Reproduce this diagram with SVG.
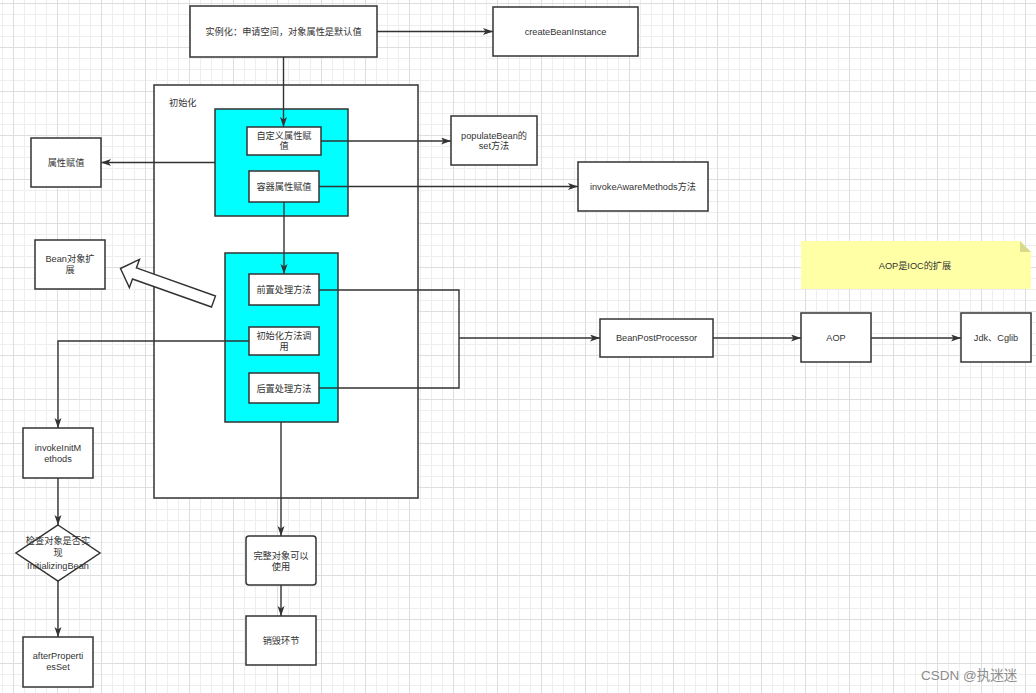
<svg xmlns="http://www.w3.org/2000/svg" width="1036" height="693" viewBox="0 0 1036 693">
<style>
.box{fill:#ffffff;stroke:#333333;stroke-width:1.5}
.cyan{fill:#00ffff;stroke:#333333;stroke-width:1.5}
.line{fill:none;stroke:#333333;stroke-width:1.4}
.t{font-family:"Liberation Sans","Noto Sans CJK SC",sans-serif;font-size:9.2px;fill:#333333;text-anchor:middle}
.tl{font-family:"Liberation Sans","Noto Sans CJK SC",sans-serif;font-size:9.2px;fill:#333333}
.wm{font-family:"Liberation Sans","Noto Sans CJK SC",sans-serif;font-size:13.5px;fill:#8c8c8c}
</style>
<defs>
<pattern id="grid" patternUnits="userSpaceOnUse" x="2" y="3" width="44" height="44">
<path d="M0.5,0V44M22.5,0V44M33.5,0V44M0,11.5H44M0,22.5H44M0,33.5H44" stroke="#eeeeee" stroke-width="1" fill="none"/>
<path d="M11.5,0V44M0,0.5H44" stroke="#dedede" stroke-width="1" fill="none"/>
</pattern>
<marker id="arr" markerUnits="userSpaceOnUse" markerWidth="11" markerHeight="8" refX="10" refY="3.5" orient="auto">
<path d="M0,0 L10,3.5 L0,7 L2.5,3.5 z" fill="#333333"/>
</marker>
</defs>
<rect x="0" y="0" width="1036" height="693" fill="#ffffff"/>
<rect x="0" y="0" width="1036" height="693" fill="url(#grid)"/>

<g id="container-init">
<rect class="box" x="154" y="85" width="264" height="413"/>
<text class="tl" x="169" y="106">初始化</text>
</g>
<g id="cyan-1"><rect class="cyan" x="215" y="109" width="133" height="107"/></g>
<g id="cyan-2"><rect class="cyan" x="225" y="253" width="113" height="169"/></g>

<g id="connectors">
<line class="line" x1="377" y1="31.5" x2="493" y2="31.5" marker-end="url(#arr)"/>
<line class="line" x1="283.5" y1="57" x2="283.5" y2="127" marker-end="url(#arr)"/>
<line class="line" x1="321" y1="141" x2="451" y2="141" marker-end="url(#arr)"/>
<line class="line" x1="319" y1="186.5" x2="578" y2="186.5" marker-end="url(#arr)"/>
<line class="line" x1="215" y1="162.5" x2="101" y2="162.5" marker-end="url(#arr)"/>
<line class="line" x1="284" y1="202" x2="284" y2="274" marker-end="url(#arr)"/>
<polyline class="line" points="319,290 459,290 459,388 319,388"/>
<line class="line" x1="459" y1="338" x2="600" y2="338" marker-end="url(#arr)"/>
<line class="line" x1="713" y1="338" x2="801" y2="338" marker-end="url(#arr)"/>
<line class="line" x1="871" y1="338" x2="961" y2="338" marker-end="url(#arr)"/>
<polyline class="line" points="249,341 58,341 58,428" marker-end="url(#arr)"/>
<line class="line" x1="58" y1="478" x2="58" y2="525" marker-end="url(#arr)"/>
<line class="line" x1="58" y1="581" x2="58" y2="637" marker-end="url(#arr)"/>
<line class="line" x1="281" y1="422" x2="281" y2="536" marker-end="url(#arr)"/>
<line class="line" x1="281" y1="585" x2="281" y2="616" marker-end="url(#arr)"/>
<polygon points="120.5,268.5 139.5,259.3 136.4,267.9 215.5,296 211.5,307 132.5,279 129.4,287.6" fill="#ffffff" stroke="#333333" stroke-width="1.4" stroke-linejoin="miter"/>
</g>

<g id="instantiate">
<rect class="box" x="190" y="6" width="187" height="51"/>
<text class="t" x="283.5" y="34.7">实例化：申请空间，对象属性是默认值</text>
</g>
<g id="createBeanInstance">
<rect class="box" x="493" y="7" width="145" height="49"/>
<text class="t" x="565.5" y="34.7">createBeanInstance</text>
</g>
<g id="custom-assign">
<rect class="box" x="247" y="127" width="74" height="28"/>
<text class="t" x="284" y="139.2">自定义属性赋</text>
<text class="t" x="284" y="149.4">值</text>
</g>
<g id="container-assign">
<rect class="box" x="249" y="171" width="70" height="31"/>
<text class="t" x="284" y="189.7">容器属性赋值</text>
</g>
<g id="populateBean">
<rect class="box" x="451" y="116" width="86" height="49"/>
<text class="t" x="494" y="138.7">populateBean的</text>
<text class="t" x="494" y="149.4">set方法</text>
</g>
<g id="invokeAwareMethods">
<rect class="box" x="578" y="162" width="130" height="49"/>
<text class="t" x="643" y="190.4">invokeAwareMethods方法</text>
</g>
<g id="prop-assign">
<rect class="box" x="31" y="138" width="70" height="49"/>
<text class="t" x="66" y="166.2">属性赋值</text>
</g>
<g id="bean-ext">
<rect class="box" x="35" y="240" width="70" height="49"/>
<text class="t" x="70" y="261.6">Bean对象扩</text>
<text class="t" x="70" y="273.4">展</text>
</g>
<g id="pre-process">
<rect class="box" x="249" y="274" width="70" height="31"/>
<text class="t" x="284" y="293.2">前置处理方法</text>
</g>
<g id="init-call">
<rect class="box" x="249" y="327" width="70" height="28"/>
<text class="t" x="284" y="339.2">初始化方法调</text>
<text class="t" x="284" y="350.4">用</text>
</g>
<g id="post-process">
<rect class="box" x="249" y="373" width="70" height="30"/>
<text class="t" x="284" y="391.8">后置处理方法</text>
</g>
<g id="BeanPostProcessor">
<rect class="box" x="600" y="319" width="113" height="38"/>
<text class="t" x="656.5" y="341.2">BeanPostProcessor</text>
</g>
<g id="AOP">
<rect class="box" x="801" y="313" width="70" height="49"/>
<text class="t" x="836" y="341.2">AOP</text>
</g>
<g id="jdk-cglib">
<rect class="box" x="961" y="313" width="70" height="49"/>
<text class="t" x="996" y="341.2">Jdk、Cglib</text>
</g>
<g id="note-aop">
<path d="M801,241 H1020 L1031,252 V289 H801 Z" fill="#ffffa6"/>
<path d="M1020,241 L1031,252 H1020 Z" fill="#d9d98c"/>
<text class="t" x="915" y="269.2">AOP是IOC的扩展</text>
</g>
<g id="invokeInitMethods">
<rect class="box" x="23" y="428" width="70" height="50"/>
<text class="t" x="58" y="450.6">invokeInitM</text>
<text class="t" x="58" y="461.6">ethods</text>
</g>
<g id="check-initializing">
<polygon class="box" points="58,525 100,553 58,581 16,553"/>
<text class="t" x="58" y="544.2">检查对象是否实</text>
<text class="t" x="58" y="556.4">现</text>
<text class="t" x="58" y="568.8">InitializingBean</text>
</g>
<g id="afterPropertiesSet">
<rect class="box" x="23" y="637" width="70" height="50"/>
<text class="t" x="58" y="659.2">afterProperti</text>
<text class="t" x="58" y="670.4">esSet</text>
</g>
<g id="complete-object">
<rect class="box" x="246" y="536" width="70" height="49" rx="3" ry="3"/>
<text class="t" x="281" y="558.9">完整对象可以</text>
<text class="t" x="281" y="569.6">使用</text>
</g>
<g id="destroy">
<rect class="box" x="246" y="616" width="70" height="49"/>
<text class="t" x="281" y="644.2">销毁环节</text>
</g>
<text class="wm" x="921" y="680">CSDN @执迷迷</text>
</svg>
